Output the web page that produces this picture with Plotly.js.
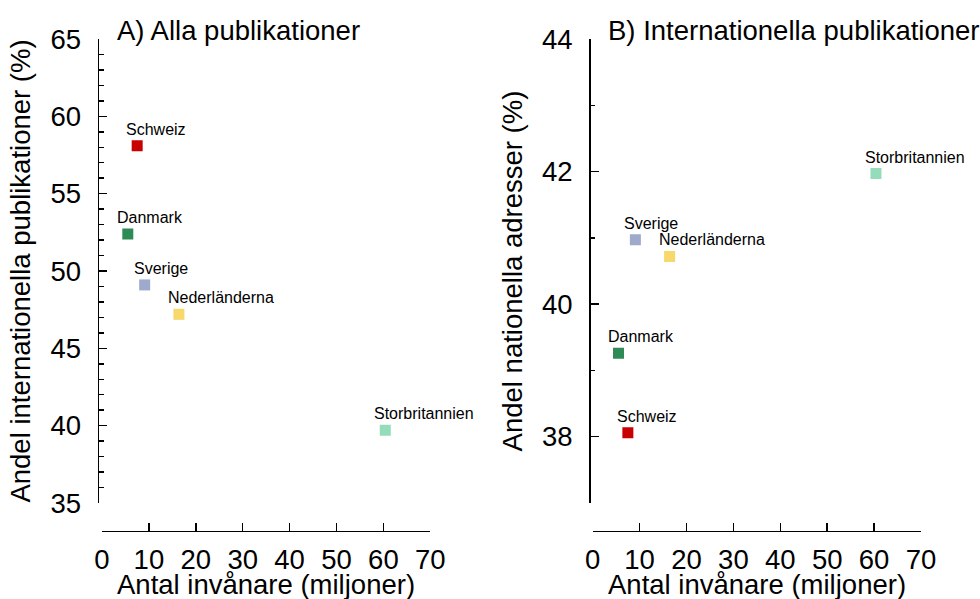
<!DOCTYPE html>
<html>
<head>
<meta charset="utf-8">
<script src="https://cdn.plot.ly/plotly-3.0.1.min.js"></script>
<style>
html,body{margin:0;padding:0;background:#fff;}
#chart{width:980px;height:599px;}
</style>
</head>
<body>
<div id="chart"></div>
<script>
// Data
const countries = ["Schweiz", "Danmark", "Sverige", "Nederländerna", "Storbritannien"];
const population = [7.5, 5.5, 9.1, 16.4, 60.4];           // miljoner
const shareInternational = [58.1, 52.4, 49.1, 47.2, 39.7]; // panel A (%)
const shareNational = [38.06, 39.26, 40.97, 40.72, 41.97]; // panel B (%)
const colors = ["#c80000", "#2e8b57", "#9eaacc", "#f7d86a", "#95dcbb"];

const titleA = "A) Alla publikationer";
const titleB = "B) Internationella publikationer";
const xTitle = "Antal invånare (miljoner)";
const yTitleA = "Andel internationella publikationer (%)";
const yTitleB = "Andel nationella adresser (%)";

const FONT = "Liberation Sans, Arial, Helvetica, sans-serif";
const W = 980, H = 599;
const px = v => v / W;
const py = v => (H - v) / H;
const BIG = 27.5;

const xDomA = [px(102), px(430.3)];
const xDomB = [px(592.7), px(921)];

const traces = [
  {
    type: "scatter", mode: "markers", x: population, y: shareInternational,
    xaxis: "x", yaxis: "y",
    marker: {symbol: "square", size: 11, color: colors, line: {width: 0}},
    hoverinfo: "text", text: countries, showlegend: false
  },
  {
    type: "scatter", mode: "markers", x: population, y: shareNational,
    xaxis: "x2", yaxis: "y2",
    marker: {symbol: "square", size: 11, color: colors, line: {width: 0}},
    hoverinfo: "text", text: countries, showlegend: false
  }
];

const annotations = [];
countries.forEach((c, i) => {
  annotations.push({xref: "x", yref: "y", x: population[i], y: shareInternational[i], text: c,
    showarrow: false, xanchor: "left", yanchor: "bottom", xshift: -13, yshift: 6,
    font: {family: FONT, size: 16, color: "#000"}});
  annotations.push({xref: "x2", yref: "y2", x: population[i], y: shareNational[i], text: c,
    showarrow: false, xanchor: "left", yanchor: "bottom", xshift: -13, yshift: 6,
    font: {family: FONT, size: 16, color: "#000"}});
});
annotations.push({xref: "paper", yref: "paper", x: px(115), y: py(48), text: titleA, showarrow: false,
  xanchor: "left", yanchor: "bottom", font: {family: FONT, size: BIG, color: "#000"}});
annotations.push({xref: "paper", yref: "paper", x: px(606), y: py(48), text: titleB, showarrow: false,
  xanchor: "left", yanchor: "bottom", font: {family: FONT, size: BIG, color: "#000"}});
// x-axis titles
[xDomA, xDomB].forEach(d => {
  annotations.push({xref: "paper", yref: "paper", x: (d[0] + d[1]) / 2, y: py(584.5), text: xTitle,
    showarrow: false, xanchor: "center", yanchor: "middle", font: {family: FONT, size: BIG, color: "#000"}});
});

const xCommon = {
  range: [0, 70], dtick: 10, tick0: 0, anchor: "free", position: py(530.5),
  showline: true, linewidth: 1.5, linecolor: "#000", ticks: "inside", ticklen: 8, tickwidth: 1.5, tickcolor: "#000",
  showgrid: false, zeroline: false, automargin: false, ticklabelstandoff: 4,
  tickfont: {family: FONT, size: BIG, color: "#000"},
  fixedrange: true
};
const yCommon = {
  anchor: "free", domain: [py(503), py(39)],
  showline: true, linewidth: 1.5, linecolor: "#000", ticks: "inside", ticklen: 8, tickwidth: 1.5, tickcolor: "#000",
  showgrid: false, zeroline: false, automargin: false, ticklabelstandoff: 11,
  tickfont: {family: FONT, size: BIG, color: "#000"},
  fixedrange: true
};

const layout = {
  width: W, height: H,
  margin: {l: 0, r: 0, t: 0, b: 0},
  paper_bgcolor: "#fff", plot_bgcolor: "#fff",
  font: {family: FONT, color: "#000"},
  showlegend: false,
  xaxis: Object.assign({}, xCommon, {domain: xDomA}),
  xaxis2: Object.assign({}, xCommon, {domain: xDomB}),
  yaxis: Object.assign({}, yCommon, {
    range: [35, 65], dtick: 5, tick0: 0, position: px(97.5),
    minor: {dtick: 1, tick0: 0, ticks: "inside", ticklen: 4.5, tickwidth: 1.5, tickcolor: "#000", showgrid: false},
    title: {text: yTitleA, font: {family: FONT, size: BIG, color: "#000"}, standoff: 10}
  }),
  yaxis2: Object.assign({}, yCommon, {
    range: [37, 44], dtick: 2, tick0: 0, position: px(589),
    minor: {dtick: 1, tick0: 0, ticks: "inside", ticklen: 4.5, tickwidth: 1.5, tickcolor: "#000", showgrid: false},
    title: {text: yTitleB, font: {family: FONT, size: BIG, color: "#000"}, standoff: 10}
  }),
  annotations: annotations
};

Plotly.newPlot("chart", traces, layout, {displayModeBar: false, staticPlot: true});
</script>
</body>
</html>
